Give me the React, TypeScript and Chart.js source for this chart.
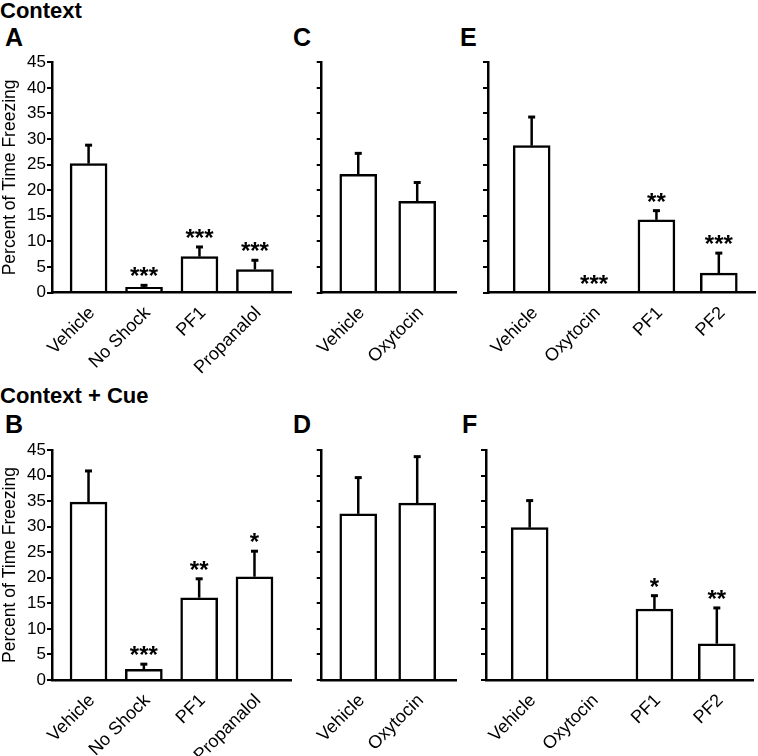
import React, { useEffect, useRef } from 'react';
import { Chart, registerables } from 'chart.js';

Chart.register(...registerables);

const FONT = '"Liberation Sans", Arial, Helvetica, sans-serif';

// ---------- data ----------
const yTickValues = [0, 5, 10, 15, 20, 25, 30, 35, 40, 45];
const yTitle = 'Percent of Time Freezing';

// A: Context
const catsA = ['Vehicle', 'No Shock', 'PF1', 'Propanalol'];
const meanA = [25.2, 1.0, 7.0, 4.5];
const semA = [3.6, 0.4, 1.9, 1.8];
const sigA = ['', '***', '***', '***'];

// B: Context + Cue
const catsB = ['Vehicle', 'No Shock', 'PF1', 'Propanalol'];
const meanB = [34.8, 2.1, 16.1, 20.2];
const semB = [6.1, 1.0, 3.7, 5.0];
const sigB = ['', '***', '**', '*'];

// C: Context
const catsC = ['Vehicle', 'Oxytocin'];
const meanC = [23.1, 17.8];
const semC = [4.1, 3.7];
const sigC = ['', ''];

// D: Context + Cue
const catsD = ['Vehicle', 'Oxytocin'];
const meanD = [32.5, 34.6];
const semD = [7.1, 9.1];
const sigD = ['', ''];

// E: Context
const catsE = ['Vehicle', 'Oxytocin', 'PF1', 'PF2'];
const meanE = [28.7, 0, 14.2, 3.8];
const semE = [5.6, 0, 1.8, 3.9];
const sigE = ['', '***', '**', '***'];

// F: Context + Cue
const catsF = ['Vehicle', 'Oxytocin', 'PF1', 'PF2'];
const meanF = [29.8, 0, 13.9, 7.1];
const semF = [5.3, 0, 2.6, 7.0];
const sigF = ['', '', '*', '**'];

// ---------- plugin: error bars + significance stars ----------
const errStarsPlugin = {
  id: 'errStars',
  afterDatasetsDraw(chart: any, _args: any, opts: any) {
    const { ctx } = chart;
    const ys = chart.scales.y;
    const meta = chart.getDatasetMeta(0);
    const ds = chart.data.datasets[0];
    ctx.save();
    meta.data.forEach((el: any, i: number) => {
      const raw = ds.data[i];
      const sem = opts.sem[i] || 0;
      const top = ys.getPixelForValue(raw.y + sem);
      const x = el.x;
      if (sem > 0) {
        ctx.strokeStyle = '#000';
        ctx.lineWidth = 2.5;
        ctx.beginPath();
        ctx.moveTo(x, el.y);
        ctx.lineTo(x, top);
        ctx.stroke();
        ctx.lineWidth = 3;
        ctx.beginPath();
        ctx.moveTo(x - 3.5, top);
        ctx.lineTo(x + 3.5, top);
        ctx.stroke();
      }
      const s = opts.sig[i];
      if (s) {
        ctx.fillStyle = '#000';
        ctx.font = `bold 24px ${FONT}`;
        ctx.textAlign = 'center';
        ctx.textBaseline = 'alphabetic';
        ctx.fillText(s, x, top - 1);
      }
    });
    ctx.restore();
  },
};

type Area = { left: number; top: number; right: number; bottom: number };
type PanelProps = {
  x: number;
  y: number;
  w: number;
  h: number;
  area: Area;
  xmin: number;
  xmax: number;
  cats: string[];
  mean: number[];
  sem: number[];
  sig: string[];
  showY: boolean;
};

function Panel(p: PanelProps) {
  const ref = useRef<HTMLCanvasElement>(null);
  useEffect(() => {
    const chart = new Chart(ref.current as HTMLCanvasElement, {
      type: 'bar',
      data: {
        datasets: [
          {
            data: p.cats.map((_, i) => ({ x: i, y: p.mean[i] })) as any,
            backgroundColor: '#ffffff',
            borderColor: '#000000',
            borderWidth: 2.5,
            borderSkipped: 'start',
            barThickness: 37,
          } as any,
        ],
      },
      options: {
        responsive: false,
        animation: false,
        events: [],
        layout: {
          autoPadding: false,
          padding: { left: 0, top: p.area.top, right: p.w - p.area.right, bottom: 0 },
        },
        plugins: {
          legend: { display: false },
          tooltip: { enabled: false },
          errStars: { sem: p.sem, sig: p.sig },
        } as any,
        scales: {
          x: {
            type: 'linear',
            min: p.xmin,
            max: p.xmax,
            offset: false,
            grid: { display: false, drawTicks: false },
            border: { display: true, color: '#000', width: 2.5, z: 1 },
            afterBuildTicks: (s: any) => {
              s.ticks = p.cats.map((_, i) => ({ value: i }));
            },
            afterFit: (s: any) => {
              s.height = p.h - p.area.bottom;
            },
            ticks: {
              autoSkip: false,
              minRotation: 45,
              maxRotation: 45,
              color: '#000',
              font: { family: FONT, size: 18 },
              padding: 10,
              labelOffset: 3.5,
              callback: (v: any) => p.cats[v] ?? '',
            },
          } as any,
          y: {
            type: 'linear',
            min: 0,
            max: 45,
            afterBuildTicks: (s: any) => {
              s.ticks = yTickValues.map((v) => ({ value: v }));
            },
            afterFit: (s: any) => {
              s.width = p.area.left;
            },
            grid: {
              drawOnChartArea: false,
              drawTicks: true,
              tickLength: 5,
              color: '#000',
              lineWidth: 2,
            },
            border: { display: true, color: '#000', width: 2.5, z: 1 },
            ticks: {
              display: p.showY,
              color: '#000',
              font: { family: FONT, size: 17 },
              padding: 1,
            },
            title: {
              display: p.showY,
              text: yTitle,
              color: '#000',
              font: { family: FONT, size: 17.5 },
              padding: 0,
            },
          } as any,
        },
      },
      plugins: [errStarsPlugin as any],
    });
    return () => chart.destroy();
  }, []);
  return (
    <div style={{ position: 'absolute', left: p.x, top: p.y, width: p.w, height: p.h }}>
      <canvas ref={ref} width={p.w} height={p.h} style={{ width: p.w, height: p.h, display: 'block' }} />
    </div>
  );
}

const txt = (text: string, left: number, top: number, size: number) => (
  <div
    style={{
      position: 'absolute',
      left,
      top,
      fontFamily: FONT,
      fontWeight: 'bold',
      fontSize: size,
      lineHeight: `${size}px`,
      whiteSpace: 'nowrap',
      color: '#000',
    }}
  >
    {text}
  </div>
);

export default function App() {
  const topArea = (l: number, r: number): Area => ({ left: l, top: 12.3, right: r, bottom: 242.5 });
  const botArea = (l: number, r: number): Area => ({ left: l, top: 12, right: r, bottom: 242 });
  return (
    <div
      style={{
        position: 'fixed',
        left: 0,
        top: 0,
        width: 758,
        height: 756,
        background: '#fff',
        overflow: 'hidden',
      }}
    >
      {txt('Context', 0, 0, 22)}
      {txt('A', 5, 25, 25)}
      {txt('C', 293, 25, 25)}
      {txt('E', 460, 25, 25)}
      {txt('Context + Cue', 0, 384.5, 22)}
      {txt('B', 5, 412, 25)}
      {txt('D', 293, 412, 25)}
      {txt('F', 462, 412, 25)}

      <Panel x={0} y={50} w={300} h={335} area={topArea(52, 291.5)} xmin={-0.66} xmax={3.66}
        cats={catsA} mean={meanA} sem={semA} sig={sigA} showY={true} />
      <Panel x={300} y={50} w={170} h={335} area={topArea(21.7, 156.7)} xmin={-0.62} xmax={1.67}
        cats={catsC} mean={meanC} sem={semC} sig={sigC} showY={false} />
      <Panel x={470} y={50} w={288} h={335} area={topArea(18, 285)} xmin={-0.7} xmax={3.58}
        cats={catsE} mean={meanE} sem={semE} sig={sigE} showY={false} />

      <Panel x={0} y={438} w={300} h={318} area={botArea(52, 291)} xmin={-0.66} xmax={3.66}
        cats={catsB} mean={meanB} sem={semB} sig={sigB} showY={true} />
      <Panel x={300} y={438} w={170} h={318} area={botArea(21.7, 156.7)} xmin={-0.62} xmax={1.67}
        cats={catsD} mean={meanD} sem={semD} sig={sigD} showY={false} />
      <Panel x={470} y={438} w={288} h={318} area={botArea(16, 283)} xmin={-0.7} xmax={3.58}
        cats={catsF} mean={meanF} sem={semF} sig={sigF} showY={false} />
    </div>
  );
}
